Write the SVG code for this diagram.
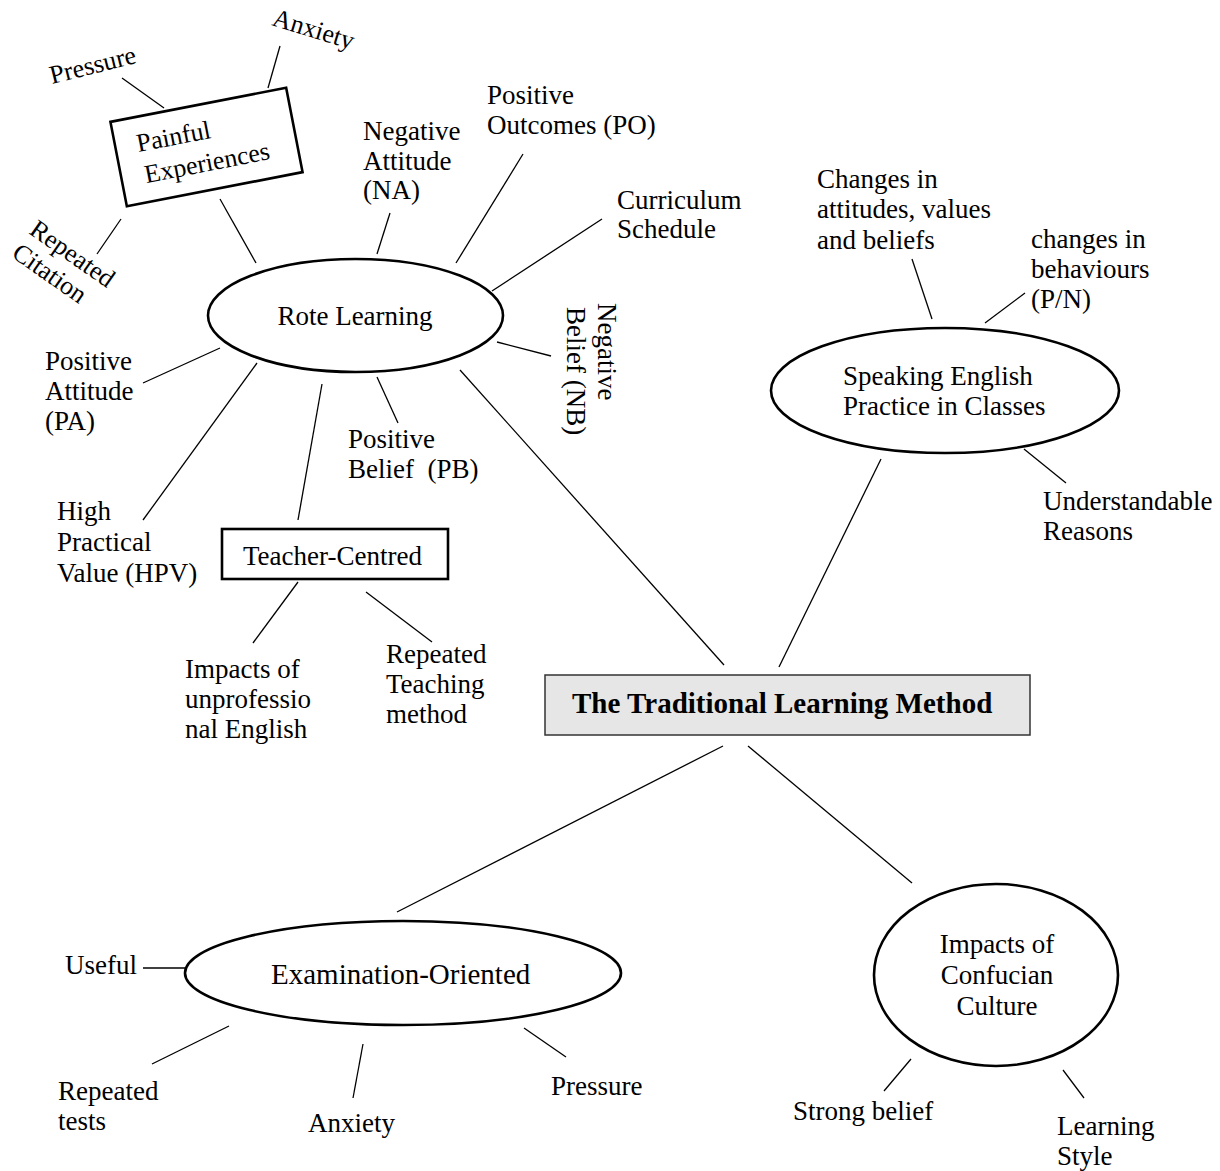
<svg xmlns="http://www.w3.org/2000/svg" width="1220" height="1171" viewBox="0 0 1220 1171">
<style>
text{font-family:"Liberation Serif","Times New Roman",serif;font-size:27px;fill:#000}
.sm{font-size:26px}
.big{font-size:29px}
.title{font-size:29px;font-weight:bold}
.el{fill:none;stroke:#000;stroke-width:2.6}
.bx{fill:#fff;stroke:#000;stroke-width:2.6}
.conn line{stroke:#000;stroke-width:1.3}
</style>
<rect width="1220" height="1171" fill="#fff"/>
<g class="conn" id="connectors">
<line x1="122" y1="78" x2="164" y2="108"/>
<line x1="280" y1="46" x2="268" y2="88"/>
<line x1="121" y1="219" x2="97" y2="254"/>
<line x1="220" y1="199" x2="256" y2="263"/>
<line x1="390" y1="213" x2="377" y2="254"/>
<line x1="523" y1="154" x2="456" y2="263"/>
<line x1="602" y1="219" x2="492" y2="291"/>
<line x1="497" y1="342" x2="551" y2="356"/>
<line x1="143" y1="383" x2="220" y2="348"/>
<line x1="143" y1="520" x2="257" y2="363"/>
<line x1="298" y1="520" x2="322" y2="384"/>
<line x1="398" y1="423" x2="377" y2="377"/>
<line x1="298" y1="582" x2="253" y2="643"/>
<line x1="366" y1="592" x2="432" y2="642"/>
<line x1="460" y1="370" x2="724" y2="665"/>
<line x1="912" y1="259" x2="932" y2="319"/>
<line x1="1025" y1="293" x2="985" y2="323"/>
<line x1="1024" y1="449" x2="1066" y2="483"/>
<line x1="881" y1="459" x2="779" y2="667"/>
<line x1="723" y1="746" x2="397" y2="912"/>
<line x1="748" y1="746" x2="912" y2="883"/>
<line x1="143" y1="968" x2="185" y2="968"/>
<line x1="229" y1="1026" x2="152" y2="1064"/>
<line x1="363" y1="1044" x2="353" y2="1098"/>
<line x1="524" y1="1028" x2="566" y2="1057"/>
<line x1="911" y1="1059" x2="884" y2="1091"/>
<line x1="1063" y1="1070" x2="1084" y2="1098"/>
</g>
<g id="painful">
<g transform="translate(206.5,147) rotate(-11)">
<rect class="bx" x="-89.5" y="-43" width="179" height="86"/>
<text class="sm"><tspan x="-68" y="-8">Painful</tspan><tspan x="-66" y="24">Experiences</tspan></text>
</g>
</g>
<g id="pressure1"><text class="sm" transform="translate(52,84) rotate(-14)">Pressure</text></g>
<g id="anxiety1"><text class="sm" transform="translate(271,25) rotate(17)">Anxiety</text></g>
<g id="repeated-citation"><text class="sm" transform="translate(28,233) rotate(35)"><tspan x="0" y="0">Repeated</tspan><tspan x="-1" y="29">Citation</tspan></text></g>
<g id="rote">
<ellipse class="el" cx="355.5" cy="315.5" rx="147.5" ry="56.5"/>
<text x="355" y="325" text-anchor="middle">Rote Learning</text>
</g>
<g id="na"><text><tspan x="363" y="140">Negative</tspan><tspan x="363" y="170">Attitude</tspan><tspan x="363" y="199">(NA)</tspan></text></g>
<g id="po"><text><tspan x="487" y="104">Positive</tspan><tspan x="487" y="134">Outcomes (PO)</tspan></text></g>
<g id="curriculum"><text><tspan x="617" y="209">Curriculum</tspan><tspan x="617" y="238">Schedule</tspan></text></g>
<g id="nb"><text transform="translate(598,303) rotate(90)"><tspan x="0" y="0">Negative</tspan><tspan x="4" y="31">Belief (NB)</tspan></text></g>
<g id="pa"><text><tspan x="45" y="370">Positive</tspan><tspan x="45" y="400">Attitude</tspan><tspan x="45" y="430">(PA)</tspan></text></g>
<g id="pb"><text xml:space="preserve"><tspan x="348" y="448">Positive</tspan><tspan x="348" y="478">Belief  (PB)</tspan></text></g>
<g id="hpv"><text><tspan x="57" y="520">High</tspan><tspan x="57" y="551">Practical</tspan><tspan x="57" y="582">Value (HPV)</tspan></text></g>
<g id="teacher">
<rect class="bx" x="222" y="529" width="226" height="50"/>
<text x="243" y="565">Teacher-Centred</text>
</g>
<g id="impacts-unprof"><text><tspan x="185" y="678">Impacts of</tspan><tspan x="185" y="708">unprofessio</tspan><tspan x="185" y="738">nal English</tspan></text></g>
<g id="repeated-teaching"><text><tspan x="386" y="663">Repeated</tspan><tspan x="386" y="693">Teaching</tspan><tspan x="386" y="723">method</tspan></text></g>
<g id="changes-att"><text><tspan x="817" y="188">Changes in</tspan><tspan x="817" y="218">attitudes, values</tspan><tspan x="817" y="249">and beliefs</tspan></text></g>
<g id="changes-beh"><text><tspan x="1031" y="248">changes in</tspan><tspan x="1031" y="278">behaviours</tspan><tspan x="1031" y="308">(P/N)</tspan></text></g>
<g id="speaking">
<ellipse class="el" cx="945" cy="390.5" rx="174" ry="62.5"/>
<text><tspan x="843" y="385">Speaking English</tspan><tspan x="843" y="415">Practice in Classes</tspan></text>
</g>
<g id="understandable"><text><tspan x="1043" y="510">Understandable</tspan><tspan x="1043" y="540">Reasons</tspan></text></g>
<g id="title">
<rect x="545" y="675" width="485" height="60" fill="#e6e6e6" stroke="#333" stroke-width="1.5"/>
<text class="title" x="572" y="713">The Traditional Learning Method</text>
</g>
<g id="exam">
<ellipse class="el" cx="403" cy="973" rx="218" ry="52"/>
<text class="big" x="271" y="984">Examination-Oriented</text>
</g>
<g id="useful"><text x="65" y="974">Useful</text></g>
<g id="repeated-tests"><text><tspan x="58" y="1100">Repeated</tspan><tspan x="58" y="1130">tests</tspan></text></g>
<g id="anxiety2"><text x="308" y="1132">Anxiety</text></g>
<g id="pressure2"><text x="551" y="1095">Pressure</text></g>
<g id="confucian">
<ellipse class="el" cx="996" cy="975" rx="122" ry="91"/>
<text text-anchor="middle"><tspan x="997" y="953">Impacts of</tspan><tspan x="997" y="984">Confucian</tspan><tspan x="997" y="1015">Culture</tspan></text>
</g>
<g id="strong-belief"><text x="793" y="1120">Strong belief</text></g>
<g id="learning-style"><text><tspan x="1057" y="1135">Learning</tspan><tspan x="1057" y="1165">Style</tspan></text></g>
</svg>
